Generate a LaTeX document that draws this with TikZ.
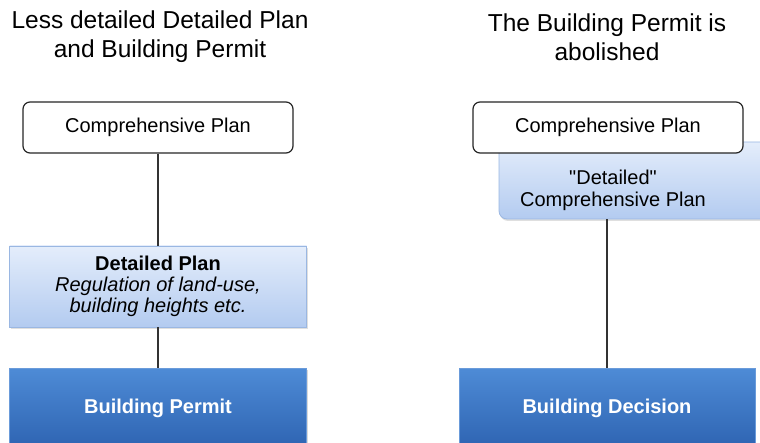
\documentclass[tikz,border=0pt]{standalone}
\usepackage{fontspec}
\setmainfont{Liberation Sans}[Ligatures=TeXOff]
\usepackage{tikz}
\usetikzlibrary{shadows}

\definecolor{lightTop}{HTML}{E4EDFB}
\definecolor{lightBot}{HTML}{B3CBF0}
\definecolor{lightEdge}{HTML}{9AB7E2}
\definecolor{darkTop}{HTML}{4E8BD6}
\definecolor{darkBot}{HTML}{2E64B2}
\definecolor{darkEdge}{HTML}{6A9BDA}

\tikzset{
    titletext/.style={align=center, font=\fontsize{24.5}{29}\selectfont},
    planbox/.style={shape=rectangle, rounded corners=7pt, draw=black!85, line width=1.2pt, fill=white, minimum width=270pt, minimum height=51pt, font=\fontsize{20}{21}\selectfont},
    lightbox/.style={shape=rectangle, draw=lightEdge, line width=0.8pt, top color=lightTop, bottom color=lightBot, drop shadow={opacity=0.25, shadow xshift=1pt, shadow yshift=-2pt}, font=\fontsize{20}{21}\selectfont, align=center},
    darkbox/.style={shape=rectangle, draw=darkEdge, line width=0.8pt, top color=darkTop, bottom color=darkBot, drop shadow={opacity=0.3, shadow xshift=1pt, shadow yshift=-2pt}, text=white, font=\bfseries\fontsize{20}{21}\selectfont, minimum height=80pt},
    wire/.style={draw=black!80, line width=1.2pt}
}

\begin{document}
\begin{tikzpicture}[x=1pt, y=-1pt]
    		\useasboundingbox (0,0) rectangle (760,443);
    		% Titles:
    		\node[titletext](TL) at (160, 37){Less detailed Detailed Plan\\and Building Permit};
    		\node[titletext](TR) at (607, 37){The Building Permit is\\abolished};
    		% Left column:
    		\node[planbox](CompL) at (158, 127.5){Comprehensive Plan};
    		\node[lightbox, minimum width=297pt, minimum height=81pt](DetL) at (158, 286.5){\textbf{Detailed Plan}\\\itshape Regulation of land-use,\\\itshape building heights etc.};
    		\node[darkbox, minimum width=297pt](PermL) at (158, 408){Building Permit};
    		\draw[wire] (CompL.south) -- (DetL.north);
    		\draw[wire] (DetL.south) -- (PermL.north);
    		% Right column:
    		\node[lightbox, rounded corners=8pt, minimum width=282pt, minimum height=77pt](DetR) at (640, 180.5){};
    		\node[font=\fontsize{20}{22}\selectfont, align=center](DetRtext) at (613, 190){"Detailed"\\Comprehensive Plan};
    		\node[planbox](CompR) at (608, 127.5){Comprehensive Plan};
    		\node[darkbox, minimum width=296pt](PermR) at (607, 408){Building Decision};
    		\draw[wire] (PermR.north |- DetR.south) -- (PermR.north);
    	\end{tikzpicture}
\end{document}
